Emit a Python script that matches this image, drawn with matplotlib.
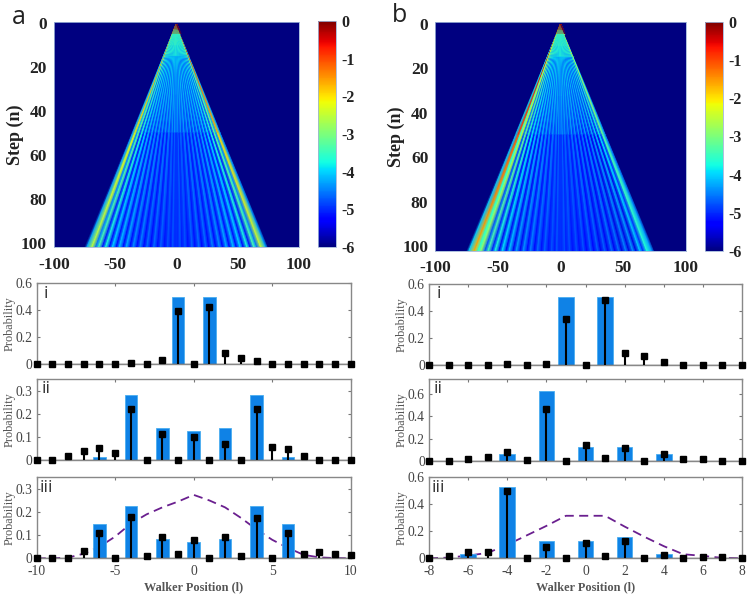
import numpy as np
import matplotlib
matplotlib.use('Agg')
import matplotlib.pyplot as plt

plt.rcParams['axes.unicode_minus'] = False

W, H = 750, 595

ray_steps = [0.5, 5, 15, 50, 102]
ray_slopes = [.80, .735, .715, .675, .645, .62, .59, .565, .535, .51, .48, .455, .425, .40, .37,
              .345, .315, .29, .26, .235, .205, .18, .15, .125, .095, .07, .045, .03, .015]
apex_row = [-0.2] * len(ray_slopes)
near_inner = [-3.7, -3.1] * 11 + [-3.4]

a_left_5 = [-6, -6, -3.6, -1.0, -3.2, -2.8] + near_inner
a_left_15 = [-6, -6, -4, -1.5, -3.9, -3, -4.4, -3.4, -4.4, -3.6, -4.4, -3.7, -4.4, -3.8, -4.4,
             -3.8, -4.4, -3.8, -4.4, -3.8, -4.4, -3.8, -4.3, -3.8, -4.3, -3.8, -4.3, -3.8, -4.1]
a_left_50 = [-6, -6, -4.4, -2.2, -4.4, -3.3, -5, -3.7, -5.1, -4, -5.1, -4.2, -5.1, -4.3, -5.1,
             -4.4, -5.1, -4.4, -5.1, -4.5, -5.1, -4.5, -5.1, -4.5, -5, -4.6, -5, -4.6, -4.9]
a_left_100 = [-6, -6, -4.3, -2.6, -4.6, -3.4, -5.2, -3.7, -5.3, -4, -5.3, -4.1, -5.3, -4.2, -5.3,
              -4.4, -5.3, -4.5, -5.3, -4.6, -5.3, -4.6, -5.2, -4.7, -5.2, -4.8, -5.1, -4.8, -5]
a_right_5 = [-6, -6, -3.6, -0.4, -3, -2.6] + near_inner
a_right_15 = [-6, -6, -4, -0.9, -3.7, -2.8, -4.4, -3.4, -4.4, -3.6, -4.4, -3.7, -4.4, -3.8, -4.4,
              -3.8, -4.4, -3.8, -4.4, -3.8, -4.4, -3.8, -4.3, -3.8, -4.3, -3.8, -4.3, -3.8, -4.1]
a_right_50 = [-6, -6, -4.4, -1.9, -4.4, -3.3, -5, -3.7, -5.1, -4, -5.1, -4.2, -5.1, -4.3, -5.1,
              -4.4, -5.1, -4.4, -5.1, -4.5, -5.1, -4.5, -5.1, -4.5, -5, -4.6, -5, -4.6, -4.9]
a_right_100 = [-6, -6, -4.3, -2.5, -4.6, -3.4, -5.2, -3.7, -5.3, -4, -5.3, -4.1, -5.3, -4.2, -5.3,
               -4.4, -5.3, -4.5, -5.3, -4.6, -5.3, -4.6, -5.2, -4.7, -5.2, -4.8, -5.1, -4.8, -5]
a_centre = [-0.2, -3.2, -4, -4.9, -5]

b_left_5 = [-6, -6, -3.6, -0.2, -2.6, -2.3] + near_inner
b_left_15 = [-6, -6, -3.8, -0.5, -3.2, -2.3, -4.2, -3, -4.3, -3.4, -4.4, -3.6, -4.4, -3.7, -4.4,
             -3.8, -4.4, -3.8, -4.4, -3.8, -4.4, -3.8, -4.3, -3.8, -4.3, -3.8, -4.3, -3.8, -4.1]
b_left_50 = [-6, -6, -4.2, -1, -3.6, -2.6, -4.8, -3.2, -5, -3.6, -5.2, -3.9, -5.2, -4.1, -5.2,
             -4.2, -5.2, -4.3, -5.1, -4.4, -5.1, -4.5, -5.1, -4.5, -5, -4.6, -5, -4.6, -4.9]
b_left_100 = [-6, -6, -4, -1.7, -3.6, -2.9, -4.8, -3.4, -5.1, -3.7, -5.4, -3.9, -5.4, -4.1, -5.4,
              -4.3, -5.4, -4.4, -5.3, -4.5, -5.3, -4.6, -5.2, -4.7, -5.2, -4.8, -5.1, -4.8, -5]
b_right_5 = [-6, -6, -3.6, -1.6, -3.2, -3] + near_inner
b_right_15 = [-6, -6, -4, -2.4, -3.9, -3.2, -4.4, -3.6, -4.4, -3.7, -4.4, -3.8, -4.4, -3.8, -4.4,
              -3.8, -4.4, -3.8, -4.4, -3.8, -4.3, -3.8, -4.3, -3.8, -4.3, -3.8, -4.3, -3.8, -4.1]
b_right_50 = [-6, -6, -4.5, -3.3, -4.9, -3.9, -5.4, -4.1, -5.4, -4.3, -5.4, -4.4, -5.3, -4.4, -5.3,
              -4.5, -5.2, -4.5, -5.2, -4.5, -5.1, -4.5, -5.1, -4.6, -5, -4.6, -5, -4.6, -4.9]
b_right_100 = [-6, -6, -4.4, -3.7, -5, -4.1, -5.5, -4.4, -5.5, -4.5, -5.5, -4.6, -5.4, -4.6, -5.4,
               -4.7, -5.4, -4.7, -5.3, -4.7, -5.3, -4.8, -5.2, -4.8, -5.2, -4.8, -5.1, -4.8, -5]
b_centre = [-0.2, -3.2, -4, -4.9, -5]

# left column of probability panels
a_pos = list(range(-10, 11))
a_i_bars = {-1: .5, 1: .5}
a_i_stems = [0, 0, 0, 0, 0, 0, .005, 0, .03, .395, 0, .425, .085, .045, .02, 0, 0, 0, 0, 0, 0]
a_ii_bars = {-6: .015, -4: .28, -2: .14, 0: .125, 2: .14, 4: .28, 6: .015}
a_ii_stems = [0, 0, .02, .042, .052, .032, .22, 0, .112, 0, .1, 0, .07, 0, .22, .058, .05, .02, 0, 0, 0]
a_iii_bars = {-6: .148, -4: .225, -2: .085, 0: .07, 2: .085, 4: .225, 6: .148}
a_iii_stems = [0, 0, .002, .03, .11, 0, .178, .012, .09, .018, .08, .002, .09, .012, .175, 0, .11, .018, .028, .02, .015]
a_iii_dash = [0, 0, .003, .02, .05, .094, .15, .19, .22, .245, .274, .25, .22, .175, .125, .08, .045, .015, .004, .001, 0]

# right column
b_pos = list(range(-8, 9))
b_i_bars = {-1: .5, 1: .5}
b_i_stems = [0, 0, 0, 0, .005, 0, .005, .34, 0, .48, .09, .065, .02, 0, 0, 0, 0]
b_ii_bars = {-4: .06, -2: .625, 0: .125, 2: .125, 4: .06}
b_ii_stems = [0, 0, .018, .04, .08, .012, .465, 0, .145, .03, .115, 0, .06, .018, .015, 0, 0]
b_iii_bars = {-6: .03, -4: .53, -2: .125, 0: .125, 2: .155, 4: .03}
b_iii_stems = [0, .015, .05, .045, .495, 0, .085, 0, .115, .015, .13, 0, .025, 0, .012, .007, 0]
b_iii_dash = [0, .005, .02, .04, .1, .17, .24, .315, .315, .315, .235, .16, .09, .03, .018, .003, 0]

serif = 'Liberation Serif'
grey = '#444444'


def pix_axes(fig, left, top, right, bottom):
    return fig.add_axes([left / W, 1 - bottom / H, (right - left) / W, (bottom - top) / H])


def heatmap(fig, box, cbox, left_rows, right_rows, centre):
    ax = pix_axes(fig, *box)
    half = np.array(ray_slopes)
    slopes = np.concatenate([-half, [0], half[::-1]])
    C = np.array([list(l) + [c] + list(r)[::-1] for l, c, r in zip(left_rows, centre, right_rows)])
    steps = np.array(ray_steps)
    x = np.outer(steps, slopes)
    y = np.outer(steps, np.ones(len(slopes)))
    ax.set_facecolor(plt.cm.jet(0.0))
    m = ax.pcolormesh(x, y, C, shading='gouraud', cmap='jet', vmin=-6, vmax=0)
    ax.set_xlim(-100, 100)
    ax.set_ylim(102, -0.8)
    ax.set_xticks([-100, -50, 0, 50, 100])
    ax.set_yticks([0, 20, 40, 60, 80, 100])
    ax.tick_params(length=0)
    ax.tick_params(axis='x', pad=7)
    ax.tick_params(axis='y', pad=5)
    for t in ax.get_xticklabels() + ax.get_yticklabels():
        t.set_family(serif)
        t.set_weight('bold')
        t.set_size(12.5)
        t.set_color('#222222')
    ax.set_ylabel('Step (n)', family=serif, weight='bold', size=13, color='#222222', labelpad=-2)
    for s in ax.spines.values():
        s.set_color('#9fb4d8')
        s.set_linewidth(0.6)
    cax = pix_axes(fig, *cbox)
    cb = fig.colorbar(m, cax=cax)
    cb.set_ticks([0, -1, -2, -3, -4, -5, -6])
    cb.set_ticklabels(['0', '-1', '-2', '-3', '-4', '-5', '-6'])
    cb.ax.tick_params(length=0, pad=4)
    for t in cb.ax.get_yticklabels():
        t.set_family(serif)
        t.set_weight('bold')
        t.set_size(11.5)
        t.set_color('#222222')
    cb.outline.set_edgecolor('#9fb4d8')
    cb.outline.set_linewidth(0.6)


def prob_panel(fig, box, pos, bars, stems, ymax, yticks, name, xticks=None, dash=None):
    ax = pix_axes(fig, *box)
    if dash is not None:
        ax.plot(pos, dash, color='#6a1f8f', lw=1.3, ls=(0, (5, 3)), zorder=1)
    ax.bar(list(bars.keys()), list(bars.values()), width=0.8, color='#0f82e6',
           edgecolor='#4aaef0', lw=0.6, zorder=2)
    ax.vlines(pos, 0, stems, color='black', lw=1.5, zorder=3)
    ax.plot(pos, stems, ls='none', marker='s', ms=4.5, color='black', zorder=4, clip_on=False)
    ax.axhline(0, color='#555555', lw=1.0, zorder=2.5)
    ax.set_xlim(pos[0], pos[-1])
    ax.set_ylim(0, ymax)
    ax.set_yticks(yticks)
    ax.set_yticklabels(['%g' % v for v in yticks])
    if xticks is None:
        ax.set_xticks(np.arange(pos[0], pos[-1] + 1, 5 if pos[0] == -10 else 2))
        ax.set_xticklabels([])
    else:
        ax.set_xticks(xticks)
        ax.set_xticklabels([str(v) for v in xticks])
        ax.set_xlabel('Walker Position (l)', family=serif, size=8.8, weight='bold', color='#555555', labelpad=2)
    ax.tick_params(direction='in', top=True, right=True, length=2.5, width=0.8, color='#777777',
                   labelsize=9.8, labelcolor=grey, pad=3)
    ax.tick_params(axis='x', pad=5)
    for t in ax.get_xticklabels() + ax.get_yticklabels():
        t.set_family(serif)
    ax.set_ylabel('Probability', family=serif, size=8.8, color='#555555')
    ax.yaxis.set_label_coords(-21 / (box[2] - box[0]), 0.5)
    for s in ax.spines.values():
        s.set_color('#888888')
        s.set_linewidth(1.0)
    ax.text(0.03, 0.97, name, transform=ax.transAxes, family='Open Sans', size=12.5, color='#333333',
            va='top', ha='center', zorder=5)


fig = plt.figure(figsize=(W / 100, H / 100), dpi=100)

heatmap(fig, (54, 21.7, 299, 247), (317.5, 21, 336, 247),
        [apex_row, a_left_5, a_left_15, a_left_50, a_left_100],
        [apex_row, a_right_5, a_right_15, a_right_50, a_right_100], a_centre)
heatmap(fig, (435.3, 22, 686, 250.7), (704.7, 22, 722.7, 251),
        [apex_row, b_left_5, b_left_15, b_left_50, b_left_100],
        [apex_row, b_right_5, b_right_15, b_right_50, b_right_100], b_centre)

prob_panel(fig, (36.7, 283.3, 350.7, 364), a_pos, a_i_bars, a_i_stems, 0.6, [0, .2, .4, .6], 'i')
prob_panel(fig, (36.7, 379, 350.7, 460.3), a_pos, a_ii_bars, a_ii_stems, 0.35, [0, .1, .2, .3], 'ii')
prob_panel(fig, (36.7, 477.3, 350.7, 558.3), a_pos, a_iii_bars, a_iii_stems, 0.35, [0, .1, .2, .3], 'iii',
           xticks=[-10, -5, 0, 5, 10], dash=a_iii_dash)

prob_panel(fig, (429, 284, 742, 364.7), b_pos, b_i_bars, b_i_stems, 0.6, [0, .2, .4, .6], 'i')
prob_panel(fig, (429, 379, 742, 461), b_pos, b_ii_bars, b_ii_stems, 0.73, [0, .2, .4, .6], 'ii')
prob_panel(fig, (429, 477.3, 742, 558.3), b_pos, b_iii_bars, b_iii_stems, 0.6, [0, .2, .4, .6], 'iii',
           xticks=[-8, -6, -4, -2, 0, 2, 4, 6, 8], dash=b_iii_dash)

fig.text(19 / W, 1 - 17 / H, 'a', family='Open Sans', size=18, color='#222222', ha='center', va='center')
fig.text(399 / W, 1 - 15 / H, 'b', family='Open Sans', size=18, color='#222222', ha='center', va='center')

fig.savefig('out.png', dpi=100)
